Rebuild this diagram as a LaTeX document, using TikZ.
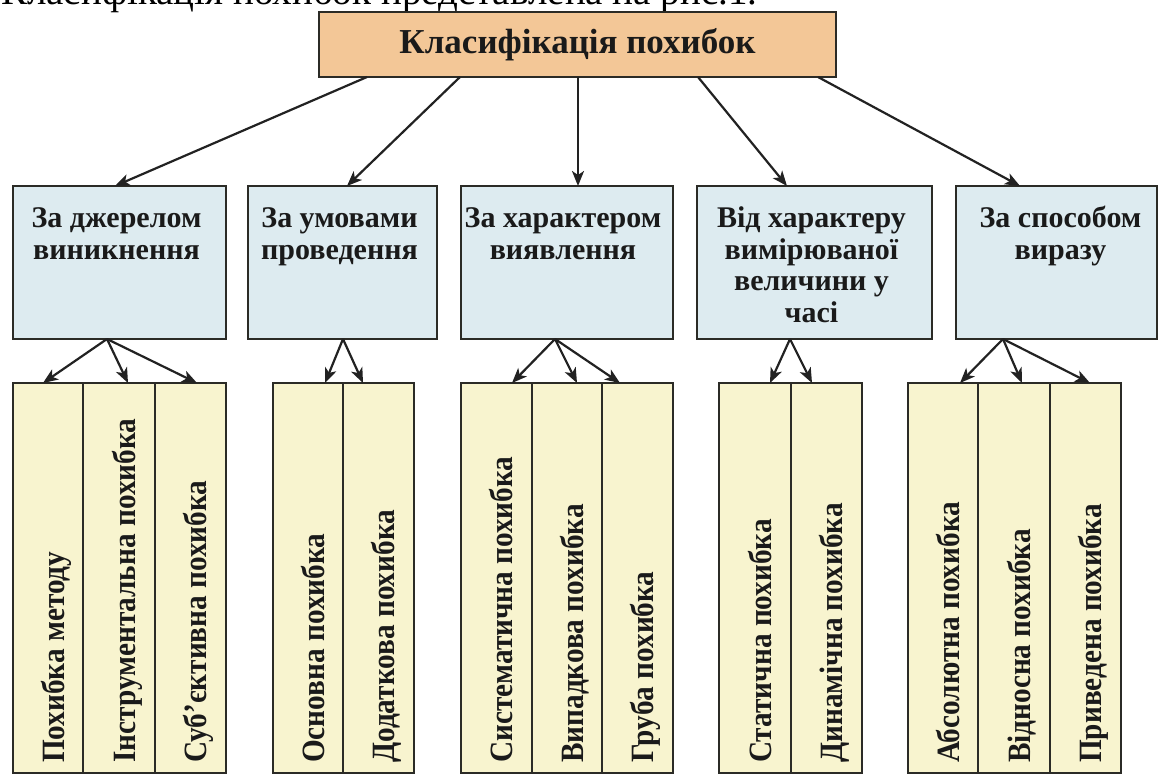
\documentclass[tikz,border=0pt]{standalone}
\usepackage{fontspec}
\setmainfont{Liberation Serif}
\newfontfamily\condfont[FakeStretch=0.9]{Liberation Serif}
\usetikzlibrary{arrows.meta,calc}
\definecolor{titlefill}{HTML}{F3C797}
\definecolor{catfill}{HTML}{DDEBF0}
\definecolor{leaffill}{HTML}{F8F4CF}
\definecolor{boxline}{HTML}{2B2B26}
\definecolor{arrcol}{HTML}{222222}
\definecolor{txt}{HTML}{1A1A1A}
\begin{document}
\begin{tikzpicture}[x=1pt,y=-1pt,
  box/.style={draw=boxline, line width=2pt, inner sep=0pt, outer sep=0pt},
  titlebox/.style={box, fill=titlefill, minimum width=517pt, minimum height=65pt,
    font=\fontsize{35}{40}\selectfont\bfseries, text=txt},
  catbox/.style={box, fill=catfill, minimum height=153pt},
  cattext/.style={anchor=north, align=center, inner sep=0pt,
    font=\fontsize{30}{31.7}\selectfont\bfseries, text=txt},
  leaf/.style={box, fill=leaffill, minimum height=390pt},
  leaftext/.style={rotate=90, anchor=base west, inner sep=0pt,
    font=\condfont\fontsize{32.5}{36}\selectfont\bfseries, text=txt},
  arr/.style={draw=arrcol, line width=2.2pt, -{Stealth[length=15pt,width=12pt,inset=4pt]}},
]
\clip (0,0) rectangle (1163,776);
\fill[white] (0,0) rectangle (1163,776);

% cut-off line of body text above the diagram
\node[anchor=base west, inner sep=0pt, font=\fontsize{39}{44}\selectfont, text=black] (intro) at (1,5) {Класифікація похибок представлена на рис.1.};

% title
\node[titlebox] (t) at (577.5,44.5) {Класифікація похибок};

% categories
\node[catbox, minimum width=213pt] (b1) at (119.5,262.5) {};
\node[catbox, minimum width=189pt] (b2) at (342.5,262.5) {};
\node[catbox, minimum width=212pt] (b3) at (567,262.5) {};
\node[catbox, minimum width=235pt] (b4) at (814.5,262.5) {};
\node[catbox, minimum width=201pt] (b5) at (1056.5,262.5) {};

\node[cattext] (b1t) at ($(b1.north)+(-3,19)$) {\strut За джерелом\\виникнення};
\node[cattext] (b2t) at ($(b2.north)+(-3,19)$) {\strut За умовами\\проведення};
\node[cattext] (b3t) at ($(b3.north)+(-4,19)$) {\strut За характером\\виявлення};
\node[cattext] (b4t) at ($(b4.north)+(-3,19)$) {\strut Від характеру\\вимірюваної\\величини у\\часі};
\node[cattext] (b5t) at ($(b5.north)+(4,19)$) {\strut За способом\\виразу};

% leaves
\node[leaf, minimum width=70pt] (l11) at (48,578) {};
\node[leaf, minimum width=72pt] (l12) at (119,578) {};
\node[leaf, minimum width=71pt] (l13) at (190.5,578) {};
\node[leaf, minimum width=70pt] (l21) at (308,578) {};
\node[leaf, minimum width=71pt] (l22) at (378.5,578) {};
\node[leaf, minimum width=71pt] (l31) at (496.5,578) {};
\node[leaf, minimum width=70pt] (l32) at (567,578) {};
\node[leaf, minimum width=71pt] (l33) at (637.5,578) {};
\node[leaf, minimum width=72pt] (l41) at (755,578) {};
\node[leaf, minimum width=71pt] (l42) at (826.5,578) {};
\node[leaf, minimum width=70pt] (l51) at (943,578) {};
\node[leaf, minimum width=72pt] (l52) at (1014,578) {};
\node[leaf, minimum width=71pt] (l53) at (1085.5,578) {};

\foreach \n/\s in {l11/Похибка методу, l12/Інструментальна похибка, l13/Суб’єктивна похибка,
  l21/Основна похибка, l22/Додаткова похибка,
  l31/Систематична похибка, l32/Випадкова похибка, l33/Груба похибка,
  l41/Статична похибка, l42/Динамічна похибка,
  l51/Абсолютна похибка, l52/Відносна похибка, l53/Приведена похибка}
  \node[leaftext] (\n t) at ($(\n.south)+(16,-10)$) {\s};

% arrows from title
\draw[arr] ([xshift=-210.5pt]t.south) -- ([xshift=-4.5pt]b1.north);
\draw[arr] ([xshift=-117.5pt]t.south) -- ([xshift=4.5pt]b2.north);
\draw[arr] ([xshift=0.5pt]t.south) -- ([xshift=11pt]b3.north);
\draw[arr] ([xshift=120.5pt]t.south) -- ([xshift=-27.5pt]b4.north);
\draw[arr] ([xshift=240.5pt]t.south) -- ([xshift=-36.5pt]b5.north);

% arrows to leaves
\draw[arr] ([xshift=-12.5pt]b1.south) -- ([xshift=-5pt]l11.north);
\draw[arr] ([xshift=-12.5pt]b1.south) -- ([xshift=9pt]l12.north);
\draw[arr] ([xshift=-12.5pt]b1.south) -- ([xshift=6.5pt]l13.north);
\draw[arr] ([xshift=0.5pt]b2.south) -- ([xshift=17pt]l21.north);
\draw[arr] ([xshift=0.5pt]b2.south) -- ([xshift=-15.5pt]l22.north);
\draw[arr] ([xshift=-12pt]b3.south) -- ([xshift=15.5pt]l31.north);
\draw[arr] ([xshift=-12pt]b3.south) -- ([xshift=10pt]l32.north);
\draw[arr] ([xshift=-12pt]b3.south) -- ([xshift=-17.5pt]l33.north);
\draw[arr] ([xshift=-24.5pt]b4.south) -- ([xshift=15pt]l41.north);
\draw[arr] ([xshift=-24.5pt]b4.south) -- ([xshift=-14.5pt]l42.north);
\draw[arr] ([xshift=-53.5pt]b5.south) -- ([xshift=17pt]l51.north);
\draw[arr] ([xshift=-53.5pt]b5.south) -- ([xshift=8pt]l52.north);
\draw[arr] ([xshift=-53.5pt]b5.south) -- ([xshift=4.5pt]l53.north);
\end{tikzpicture}
\end{document}
